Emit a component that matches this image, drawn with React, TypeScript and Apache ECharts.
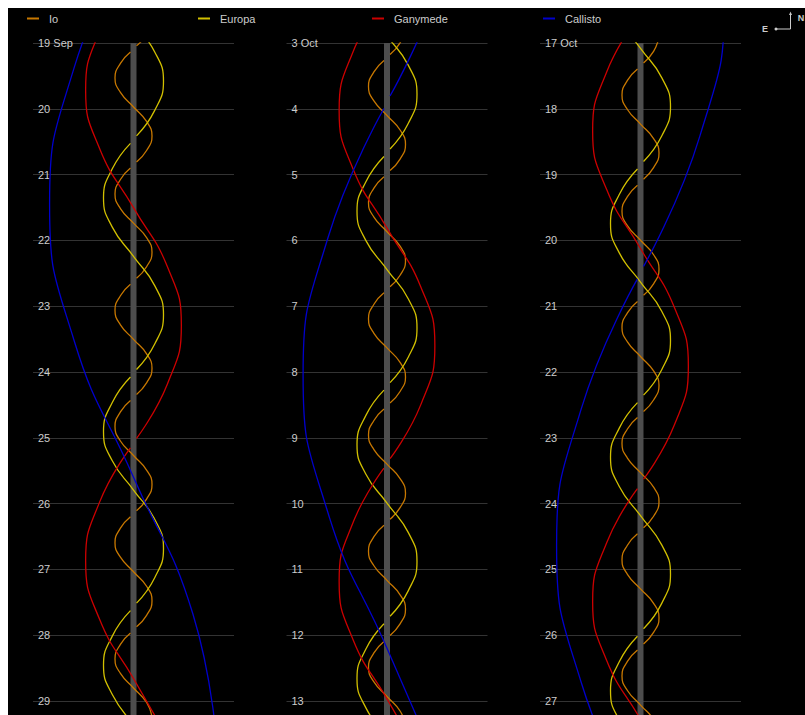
import React, { useEffect, useRef } from 'react';
import * as echarts from 'echarts';

// Moons and their colours
const moonNames = ['Io', 'Europa', 'Ganymede', 'Callisto'];
const moonColors = ['#c87800', '#d2c000', '#cc0000', '#0000cc'];

// Tick labels of the three 14-day panels (day 0..10 visible)
const panel1Labels = ['19 Sep', '20', '21', '22', '23', '24', '25', '26', '27', '28', '29'];
const panel2Labels = ['3 Oct', '4', '5', '6', '7', '8', '9', '10', '11', '12', '13'];
const panel3Labels = ['17 Oct', '18', '19', '20', '21', '22', '23', '24', '25', '26', '27'];

// [offset from Jupiter in Jupiter radii (E left, W right), days since panel start]
// null = moon hidden behind Jupiter
type Pt = [number, number] | null;

const io1: Pt[] = [[5.8,-0.353],[4.1,-0.132],[0.95,0.043],null,[-0.95,0.135],[-4.1,0.309],
  [-5.8,0.53],[-4.1,0.751],[0,0.972],[4.1,1.192],[5.8,1.413],[4.1,1.634],[0.95,1.809],null,[-0.95,1.901],[-4.1,2.075],
  [-5.8,2.296],[-4.1,2.517],[0,2.738],[4.1,2.958],[5.8,3.179],[4.1,3.4],[0.95,3.575],null,[-0.95,3.667],[-4.1,3.841],
  [-5.8,4.062],[-4.1,4.283],[0,4.504],[4.1,4.724],[5.8,4.945],[4.1,5.166],[0.95,5.341],null,[-0.95,5.433],[-4.1,5.607],
  [-5.8,5.828],[-4.1,6.049],[0,6.27],[4.1,6.49],[5.8,6.711],[4.1,6.932],[0.95,7.107],null,[-0.95,7.199],[-4.1,7.373],
  [-5.8,7.594],[-4.1,7.815],[0,8.036],[4.1,8.256],[5.8,8.477],[4.1,8.698],[0.95,8.873],null,[-0.95,8.965],[-4.1,9.139],
  [-5.8,9.36],[-4.1,9.581],[0,9.802],[4.1,10.022],[5.8,10.243]];
const io2: Pt[] = [[5.8,-0.223],[4.1,-0.002],[0.95,0.173],null,[-0.95,0.265],[-4.1,0.439],
  [-5.8,0.66],[-4.1,0.881],[0,1.102],[4.1,1.322],[5.8,1.543],[4.1,1.764],[0.95,1.939],null,[-0.95,2.031],[-4.1,2.205],
  [-5.8,2.426],[-4.1,2.647],[0,2.868],[4.1,3.088],[5.8,3.309],[4.1,3.53],[0.95,3.705],null,[-0.95,3.797],[-4.1,3.971],
  [-5.8,4.192],[-4.1,4.413],[0,4.634],[4.1,4.854],[5.8,5.075],[4.1,5.296],[0.95,5.471],null,[-0.95,5.563],[-4.1,5.737],
  [-5.8,5.958],[-4.1,6.179],[0,6.4],[4.1,6.62],[5.8,6.841],[4.1,7.062],[0.95,7.237],null,[-0.95,7.329],[-4.1,7.503],
  [-5.8,7.724],[-4.1,7.945],[0,8.166],[4.1,8.386],[5.8,8.607],[4.1,8.828],[0.95,9.003],null,[-0.95,9.095],[-4.1,9.269],
  [-5.8,9.49],[-4.1,9.711],[0,9.932],[4.1,10.152],[5.8,10.373]];
const io3: Pt[] = [[5.8,-0.093],[4.1,0.128],[0.95,0.303],null,[-0.95,0.395],[-4.1,0.569],
  [-5.8,0.79],[-4.1,1.011],[0,1.232],[4.1,1.452],[5.8,1.673],[4.1,1.894],[0.95,2.069],null,[-0.95,2.161],[-4.1,2.335],
  [-5.8,2.556],[-4.1,2.777],[0,2.998],[4.1,3.218],[5.8,3.439],[4.1,3.66],[0.95,3.835],null,[-0.95,3.927],[-4.1,4.101],
  [-5.8,4.322],[-4.1,4.543],[0,4.764],[4.1,4.984],[5.8,5.205],[4.1,5.426],[0.95,5.601],null,[-0.95,5.693],[-4.1,5.867],
  [-5.8,6.088],[-4.1,6.309],[0,6.53],[4.1,6.75],[5.8,6.971],[4.1,7.192],[0.95,7.367],null,[-0.95,7.459],[-4.1,7.633],
  [-5.8,7.854],[-4.1,8.075],[0,8.296],[4.1,8.516],[5.8,8.737],[4.1,8.958],[0.95,9.133],null,[-0.95,9.225],[-4.1,9.399],
  [-5.8,9.62],[-4.1,9.841],[0,10.062],[4.1,10.282],[5.8,10.503]];

const europa1: Pt[] = [[-9.4,-1.196],[-6.65,-0.752],[0,-0.308],[6.65,0.136],
  [9.4,0.58],[6.65,1.024],[0.95,1.411],null,[-0.95,1.525],[-6.65,1.912],[-9.4,2.356],[-6.65,2.799],[0,3.243],[6.65,3.687],
  [9.4,4.131],[6.65,4.575],[0.95,4.962],null,[-0.95,5.076],[-6.65,5.463],[-9.4,5.907],[-6.65,6.35],[0,6.794],[6.65,7.238],
  [9.4,7.682],[6.65,8.126],[0.95,8.513],null,[-0.95,8.627],[-6.65,9.014],[-9.4,9.458],[-6.65,9.901],[0,10.345]];
const europa2: Pt[] = [[-9.4,-0.996],[-6.65,-0.552],[0,-0.108],[6.65,0.336],
  [9.4,0.78],[6.65,1.224],[0.95,1.611],null,[-0.95,1.725],[-6.65,2.112],[-9.4,2.556],[-6.65,2.999],[0,3.443],[6.65,3.887],
  [9.4,4.331],[6.65,4.775],[0.95,5.162],null,[-0.95,5.276],[-6.65,5.663],[-9.4,6.107],[-6.65,6.55],[0,6.994],[6.65,7.438],
  [9.4,7.882],[6.65,8.326],[0.95,8.713],null,[-0.95,8.827],[-6.65,9.214],[-9.4,9.658],[-6.65,10.101],[0,10.545]];
const europa3: Pt[] = [[-9.4,-0.806],[-6.65,-0.362],[0,0.082],[6.65,0.526],
  [9.4,0.97],[6.65,1.414],[0.95,1.801],null,[-0.95,1.915],[-6.65,2.302],[-9.4,2.746],[-6.65,3.189],[0,3.633],[6.65,4.077],
  [9.4,4.521],[6.65,4.965],[0.95,5.352],null,[-0.95,5.466],[-6.65,5.853],[-9.4,6.297],[-6.65,6.74],[0,7.184],[6.65,7.628],
  [9.4,8.072],[6.65,8.516],[0.95,8.903],null,[-0.95,9.017],[-6.65,9.404],[-9.4,9.848],[-6.65,10.291],[0,10.735]];

const ganymede1: Pt[] = [[-0.95,-1.003],[-10.6,-0.181],[-15,0.714],[-10.6,1.608],[0,2.503],[10.6,3.397],[15,4.291],[10.6,5.186],[0.95,6.008],null,[-0.95,6.152],[-10.6,6.974],[-15,7.869],[-10.6,8.763],[0,9.658],[10.6,10.552]];
const ganymede2: Pt[] = [[-0.95,-0.693],[-10.6,0.129],[-15,1.024],[-10.6,1.918],[0,2.813],[10.6,3.707],[15,4.601],[10.6,5.496],[0.95,6.318],null,[-0.95,6.462],[-10.6,7.284],[-15,8.179],[-10.6,9.073],[0,9.968],[10.6,10.862]];
const ganymede3: Pt[] = [[-0.95,-0.383],[-10.6,0.439],[-15,1.334],[-10.6,2.228],[0,3.123],[10.6,4.017],[15,4.911],[10.6,5.806],[0.95,6.628],null,[-0.95,6.772],[-10.6,7.594],[-15,8.489],[-10.6,9.383],[0,10.278],[10.6,11.172]];

const callisto1: Pt[] = [[-0.95,-1.605],[-18.6,0.375],[-26.3,2.45],[-18.6,4.525],[0,6.6],[18.6,8.675],[26.3,10.75]];
const callisto2: Pt[] = [[26.3,-3.25],[18.6,-1.175],[0.95,0.805],null,[-0.95,0.995],[-18.6,2.975],[-26.3,5.05],[-18.6,7.125],[0,9.2],[18.6,11.275]];
const callisto3: Pt[] = [[18.6,-2.735],[26.3,-0.66],[18.6,1.415],[0.95,3.395],null,[-0.95,3.585],[-18.6,5.565],[-26.3,7.64],[-18.6,9.715],[0,11.79]];

const panelLabels = [panel1Labels, panel2Labels, panel3Labels];
const panelMoons = [
  [io1, europa1, ganymede1, callisto1],
  [io2, europa2, ganymede2, callisto2],
  [io3, europa3, ganymede3, callisto3],
];

// layout (pixels)
const PANEL_LEFT = [25, 278.5, 532];
const GRID_TOP = 35;
const GRID_W = 201;
const LEGEND_LEFT = [19, 190, 364, 535];
const FONT = 'Arial, "Liberation Sans", sans-serif';

const toData = (pts: Pt[]) => pts.map((p) => (p === null ? ['-', '-'] : p));

function buildOption(): any {
  const grid = PANEL_LEFT.map((left) => ({ left, top: GRID_TOP, width: GRID_W, bottom: 0 }));
  const xAxis = PANEL_LEFT.map((_, i) => ({
    type: 'value', gridIndex: i, min: -31.5, max: 31.5, show: false,
  }));
  const yAxis = PANEL_LEFT.map((_, i) => ({
    type: 'value', gridIndex: i, min: 0, max: 10.213, interval: 1, inverse: true,
    axisLine: { show: false }, axisTick: { show: false },
    splitLine: { show: true, lineStyle: { color: '#333', width: 1 } },
    axisLabel: {
      inside: true, margin: 5, color: '#cccccc', fontSize: 11, fontFamily: FONT,
      formatter: (v: number) => {
        const r = Math.round(v);
        return Math.abs(v - r) < 1e-6 ? panelLabels[i][r] ?? '' : '';
      },
    },
  }));
  const series: any[] = [];
  PANEL_LEFT.forEach((_, i) => {
    series.push({
      type: 'line', name: 'Jupiter', xAxisIndex: i, yAxisIndex: i,
      data: [[0, 0], [0, 11]], symbol: 'none', silent: true, z: 2,
      lineStyle: { color: '#4d4d4d', width: 6 }, itemStyle: { color: '#4d4d4d' },
    });
    panelMoons[i].forEach((pts, m) => {
      series.push({
        type: 'line', name: moonNames[m], xAxisIndex: i, yAxisIndex: i,
        data: toData(pts), symbol: 'none', showSymbol: false, smooth: 0.5,
        connectNulls: false, silent: true, z: 3,
        lineStyle: { color: moonColors[m], width: 1.3 },
        itemStyle: { color: moonColors[m] },
      });
    });
  });
  const legend = moonNames.map((name, m) => ({
    data: [name], left: LEGEND_LEFT[m], top: 5, padding: 0,
    icon: 'rect', itemWidth: 12, itemHeight: 2,
    textStyle: { color: '#cccccc', fontSize: 11, fontFamily: FONT, padding: [0, 0, 0, 5] },
  }));
  const graphic = [
    { type: 'text', x: 757, y: 21, style: { text: 'E', fill: '#cccccc', font: 'bold 9px ' + FONT, align: 'center', verticalAlign: 'middle' } },
    { type: 'text', x: 793, y: 10, style: { text: 'N', fill: '#cccccc', font: 'bold 9px ' + FONT, align: 'center', verticalAlign: 'middle' } },
    { type: 'polyline', shape: { points: [[768, 21], [782.5, 21], [782.5, 6]] }, style: { stroke: '#cccccc', lineWidth: 1, fill: null } },
    { type: 'circle', shape: { cx: 768, cy: 21, r: 1.5 }, style: { fill: '#cccccc' } },
    { type: 'polygon', shape: { points: [[782.5, 3.5], [781, 7], [784, 7]] }, style: { fill: '#cccccc' } },
  ];
  return {
    animation: false,
    backgroundColor: '#000000',
    textStyle: { fontFamily: FONT },
    grid, xAxis, yAxis, series, legend, graphic,
  };
}

export default function App() {
  const ref = useRef<HTMLDivElement>(null);
  useEffect(() => {
    const chart = echarts.init(ref.current as HTMLDivElement, null, { renderer: 'svg' });
    chart.setOption(buildOption());
    return () => chart.dispose();
  }, []);
  return (
    <div
      ref={ref}
      style={{ position: 'fixed', left: 8, top: 8, width: 797, height: 707, background: '#000' }}
    />
  );
}
